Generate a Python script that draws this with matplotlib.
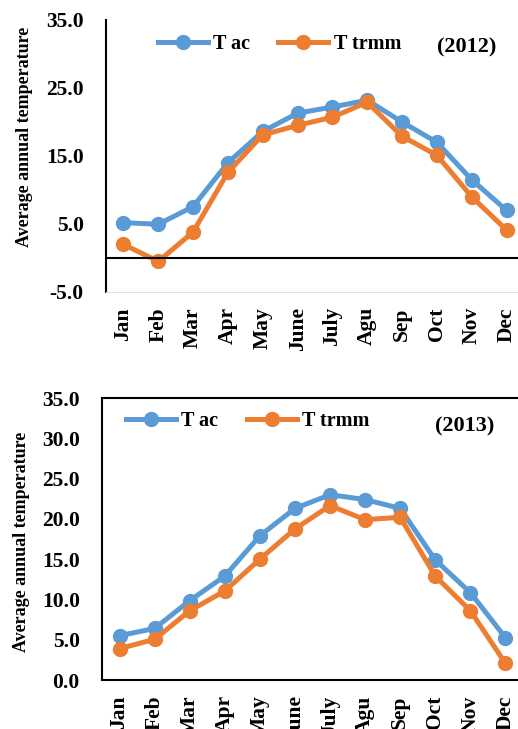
import matplotlib
matplotlib.use("Agg")
import matplotlib.pyplot as plt

months = ["Jan", "Feb", "Mar", "Apr", "May", "June", "July", "Agu", "Sep", "Oct", "Nov", "Dec"]

# 2012 values
tac_2012 = [5.2, 4.95, 7.55, 14.0, 18.6, 21.3, 22.2, 23.2, 20.0, 17.0, 11.5, 7.0]
trmm_2012 = [2.0, -0.5, 3.8, 12.6, 18.1, 19.5, 20.7, 22.9, 17.9, 15.1, 9.0, 4.1]

# 2013 values
tac_2013 = [5.5, 6.4, 9.85, 12.9, 17.9, 21.3, 23.0, 22.4, 21.3, 14.9, 10.85, 5.25]
trmm_2013 = [3.9, 5.05, 8.6, 11.05, 15.0, 18.75, 21.65, 19.9, 20.2, 12.9, 8.6, 2.07]

blue = "#5B9BD5"
orange = "#ED7D31"

plt.rcParams["font.family"] = "Liberation Serif"
plt.rcParams["font.weight"] = "bold"

fig = plt.figure(figsize=(5.18, 7.29), dpi=100)


def draw(ax, tac, trmm, year, yticks, ylim, leg_xy):
    x = range(len(months))
    ax.plot(x, tac, color=blue, lw=3.6, marker="o", ms=10, label="T ac")
    ax.plot(x, trmm, color=orange, lw=3.6, marker="o", ms=10, label="T trmm")
    ax.set_xlim(-0.5, 11.5)
    ax.set_ylim(*ylim)
    ax.set_yticks(yticks)
    ax.set_yticklabels([f"{v:.1f}" for v in yticks], fontsize=15.5, fontweight="bold")
    ax.set_xticks(list(x))
    ax.set_xticklabels(months, rotation=90, fontsize=15.5, fontweight="bold")
    ax.tick_params(length=0, pad=11)
    ax.tick_params(axis="y", pad=16)
    ax.set_ylabel("Average annual temperature", fontsize=13, fontweight="bold")
    ax.legend(loc="upper left", ncol=2, frameon=False,
              handlelength=2.5, columnspacing=1.4, handletextpad=0.25,
              bbox_to_anchor=leg_xy, prop={"weight": "bold", "size": 14.5})
    ax.text(0.862, 0.90, year, transform=ax.transAxes, ha="center", va="center",
            fontsize=16, fontweight="bold")


# top chart (2012)
ax1 = fig.add_axes([0.2046, 0.5995, 0.807, 0.3731])
draw(ax1, tac_2012, trmm_2012, "(2012)", [-5, 5, 15, 25, 35], (-5, 35), (0.08, 1.015))
ax1.axhline(0, color="black", lw=1.5)
for s in ["top", "right"]:
    ax1.spines[s].set_visible(False)
ax1.spines["bottom"].set_color("#E0E0E0")
ax1.spines["left"].set_linewidth(1.5)
ax1.yaxis.set_label_coords(-0.175, 0.57)

# bottom chart (2013)
ax2 = fig.add_axes([0.1969, 0.0672, 0.8127, 0.3868])
draw(ax2, tac_2013, trmm_2013, "(2013)", [0, 5, 10, 15, 20, 25, 30, 35], (0, 35), (0.014, 1.018))
for s in ax2.spines.values():
    s.set_linewidth(1.5)
ax2.yaxis.set_label_coords(-0.172, 0.49)

fig.savefig("out.png", dpi=100)
